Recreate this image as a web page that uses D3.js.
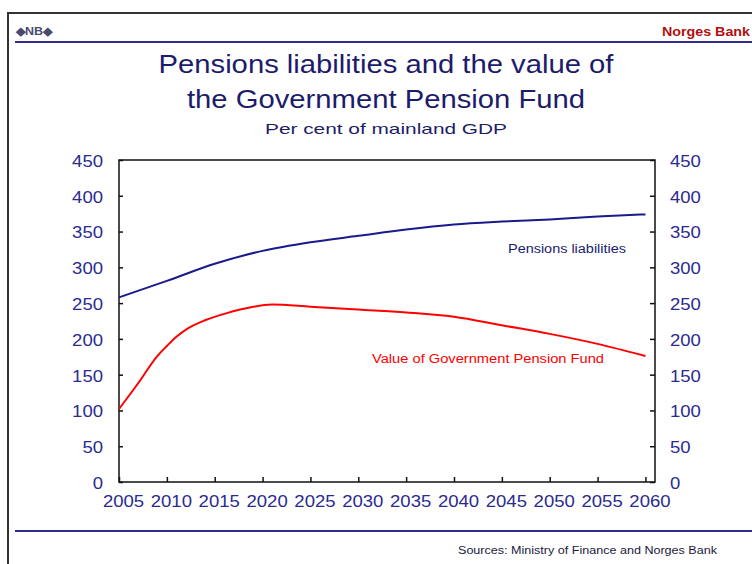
<!DOCTYPE html>
<html>
<head>
<meta charset="utf-8">
<script src="https://cdn.jsdelivr.net/npm/d3@7/dist/d3.min.js"></script>
<style>
html,body{margin:0;padding:0;background:#fff;}
svg{display:block;font-family:"Liberation Sans",Arial,sans-serif;}
</style>
</head>
<body>
<svg id="chart" width="752" height="564"></svg>
<script>
// ---- data ----
const titleLines = ["Pensions liabilities and the value of", "the Government Pension Fund"];
const subtitle = "Per cent of mainland GDP";
const xTicks = [2005, 2010, 2015, 2020, 2025, 2030, 2035, 2040, 2045, 2050, 2055, 2060];
const yTicks = [0, 50, 100, 150, 200, 250, 300, 350, 400, 450];

const liabYears  = [2005, 2010, 2015, 2020, 2025, 2030, 2035, 2040, 2045, 2050, 2055, 2060];
const liabValues = [258, 281, 305, 323, 335, 344, 353, 360, 364, 367, 371, 374];

const fundYears  = [2005, 2007, 2009, 2010, 2011, 2012, 2014, 2016, 2018, 2021, 2025, 2030, 2035, 2040, 2045, 2050, 2055, 2060];
const fundValues = [102, 138, 176, 190, 203, 213, 226, 235, 242, 248, 245, 241, 237, 231, 219, 207, 193, 176];

const seriesNames = ["Pensions liabilities", "Value of Government Pension Fund"];
const sourceText = "Sources: Ministry of Finance and Norges Bank";

// ---- layout ----
const svg = d3.select("#chart");
const labelNavy = "#2b2b8f";
const plot = {left: 119, right: 655, top: 160, bottom: 482};

const x = d3.scaleLinear().domain([2005, 2061]).range([plot.left, plot.right]);
const y = d3.scaleLinear().domain([0, 450]).range([plot.bottom, plot.top]);

// outer frame
svg.append("rect").attr("x", 8).attr("y", 13).attr("width", 760).attr("height", 570)
  .attr("fill", "none").attr("stroke", "#333").attr("stroke-width", 2);

// header
svg.append("text").attr("x", 16).attr("y", 35).attr("font-size", 11).attr("font-weight", "bold")
  .attr("fill", "#4a4a70").attr("textLength", 36).attr("lengthAdjust", "spacingAndGlyphs").text("◆NB◆");
svg.append("text").attr("x", 750).attr("y", 36).attr("text-anchor", "end").attr("font-size", 12.5)
  .attr("font-weight", "bold").attr("fill", "#b01010")
  .attr("textLength", 88).attr("lengthAdjust", "spacingAndGlyphs").text("Norges Bank");
svg.append("line").attr("x1", 15).attr("x2", 752).attr("y1", 42).attr("y2", 42)
  .attr("stroke", "#2e2e86").attr("stroke-width", 2);

// title
const tl = [455, 398];
titleLines.forEach((t, i) => {
  svg.append("text").attr("x", 386).attr("y", 73 + i * 35).attr("text-anchor", "middle")
    .attr("font-size", 25).attr("fill", "#1c1c6a")
    .attr("textLength", tl[i]).attr("lengthAdjust", "spacingAndGlyphs").text(t);
});
svg.append("text").attr("x", 386).attr("y", 134).attr("text-anchor", "middle")
  .attr("font-size", 15).attr("fill", "#1c1c6a")
  .attr("textLength", 242).attr("lengthAdjust", "spacingAndGlyphs").text(subtitle);

// axes
function styleAxis(g) {
  g.select(".domain").remove();
  g.selectAll(".tick line").attr("stroke", "#111").attr("stroke-width", 1.5);
  g.selectAll(".tick text").attr("fill", labelNavy).attr("font-size", 16)
    .attr("font-family", "'Liberation Sans',Arial,sans-serif")
    .attr("lengthAdjust", "spacingAndGlyphs")
    .attr("textLength", d => String(d).length * 10.3);
}

svg.append("g").attr("transform", `translate(0,${plot.bottom})`)
  .call(d3.axisBottom(x).tickValues(xTicks).tickFormat(d3.format("d")).tickSize(-5).tickPadding(14))
  .call(styleAxis)
  .call(g => g.selectAll(".tick text").attr("dx", 4));

svg.append("g").attr("transform", `translate(${plot.left},0)`)
  .call(d3.axisLeft(y).tickValues(yTicks).tickSize(-4).tickPadding(16))
  .call(styleAxis)
  .call(g => g.selectAll(".tick text").attr("dy", "0.4em"));

svg.append("g").attr("transform", `translate(${plot.right},0)`)
  .call(d3.axisRight(y).tickValues(yTicks).tickSize(-5).tickPadding(15))
  .call(styleAxis)
  .call(g => g.selectAll(".tick text").attr("dy", "0.4em"));

// plot border (left, top, right, bottom)
svg.append("path")
  .attr("d", `M${plot.left},${plot.bottom}V${plot.top}H${plot.right}V${plot.bottom}Z`)
  .attr("fill", "none").attr("stroke", "#111").attr("stroke-width", 1.5);

// lines
const line = d3.line().x(d => x(d[0])).y(d => y(d[1])).curve(d3.curveMonotoneX);
svg.append("path").datum(liabYears.map((yr, i) => [yr, liabValues[i]]))
  .attr("d", line).attr("fill", "none").attr("stroke", "#1a1a8c").attr("stroke-width", 2);
svg.append("path").datum(fundYears.map((yr, i) => [yr, fundValues[i]]))
  .attr("d", line).attr("fill", "none").attr("stroke", "#ff0000").attr("stroke-width", 2);

// series labels
svg.append("text").attr("x", 508).attr("y", 253).attr("font-size", 12).attr("fill", "#1a1a70")
  .attr("textLength", 118).attr("lengthAdjust", "spacingAndGlyphs").text(seriesNames[0]);
svg.append("text").attr("x", 372).attr("y", 363).attr("font-size", 12).attr("fill", "#ff0000")
  .attr("textLength", 232).attr("lengthAdjust", "spacingAndGlyphs").text(seriesNames[1]);

// bottom rule and source
svg.append("line").attr("x1", 15).attr("x2", 752).attr("y1", 531).attr("y2", 531)
  .attr("stroke", "#2e2e86").attr("stroke-width", 2);
svg.append("text").attr("x", 717).attr("y", 554).attr("text-anchor", "end").attr("font-size", 10)
  .attr("fill", "#1a1a40").attr("textLength", 259).attr("lengthAdjust", "spacingAndGlyphs").text(sourceText);
</script>
</body>
</html>
